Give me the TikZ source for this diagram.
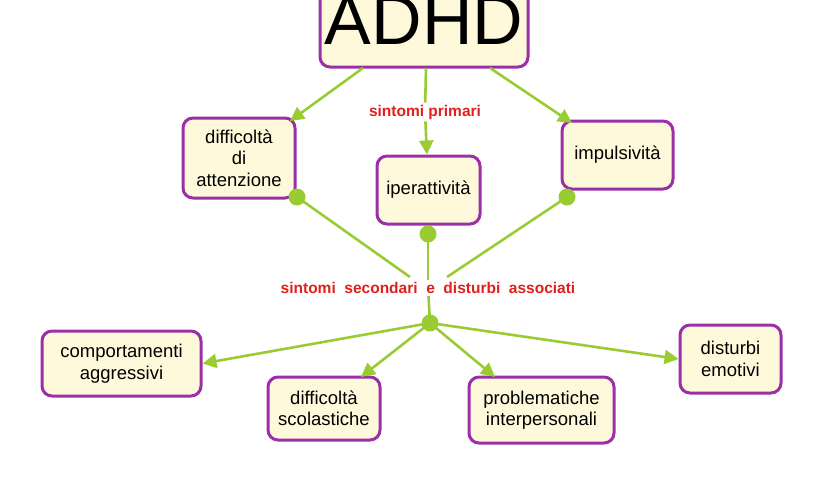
\documentclass[tikz,border=0pt]{standalone}
\usepackage{fontspec}
\setmainfont{Liberation Sans}
\usetikzlibrary{arrows.meta}
\definecolor{cream}{HTML}{FFF9DC}
\definecolor{purp}{HTML}{9A2FA8}
\definecolor{lgreen}{HTML}{99CC33}
\definecolor{lred}{HTML}{E0201C}
\begin{document}
\begin{tikzpicture}[x=1pt,y=-1pt,
 box/.style={draw=purp,line width=3pt,fill=cream,rounded corners=10pt,align=center,font=\fontsize{18.5}{21.5}\selectfont,inner sep=2pt},
 lab/.style={text=lred,font=\bfseries\fontsize{15.5}{17}\selectfont,fill=white,inner sep=2pt},
 con/.style={draw=lgreen,line width=2.6pt},
 arr/.style={con,-{Triangle[length=14pt,width=14pt]}},
 dot/.style={circle,fill=lgreen,minimum size=17pt,inner sep=0pt}]
\useasboundingbox (0,0) rectangle (840,480);
\node[box,minimum width=208pt,minimum height=94pt,inner sep=0pt,font=\fontsize{70}{70}\selectfont] (adhd) at (424,20) {ADHD};
\node[box,minimum width=112pt,minimum height=80pt] (att) at (239,158) {difficoltà\\di\\attenzione};
\node[box,minimum width=103pt,minimum height=68pt] (iper) at (428.5,190) {iperattività};
\node[box,minimum width=111pt,minimum height=68pt] (imp) at (617.5,155) {impulsività};
\node[box,minimum width=159pt,minimum height=65pt] (comp) at (121.5,363.5) {comportamenti\\aggressivi};
\node[box,minimum width=112pt,minimum height=63pt] (scol) at (324,408.5) {difficoltà\\scolastiche};
\node[box,minimum width=145pt,minimum height=66pt] (prob) at (541.5,410) {problematiche\\interpersonali};
\node[box,minimum width=101pt,minimum height=68pt] (emo) at (730.5,359) {disturbi\\emotivi};
\coordinate (a1) at (363,68); \coordinate (a2) at (426,68); \coordinate (a3) at (490,68);
\draw[arr] (a1) -- (290,121);
\draw[arr] (a3) -- (572,123);
\node[lab] (sp) at (425,112) {sintomi\ primari};
\draw[con] (a2) -- (sp);
\draw[arr] (sp) -- (iper);
\node[dot] (d1) at (297,197) {};
\node[dot] (d2) at (428,234) {};
\node[dot] (d3) at (567,197) {};
\node[lab] (ss) at (428,288) {sintomi\ \ secondari\ \ e\ \ disturbi\ \ associati};
\coordinate (s1) at (410,277); \coordinate (s3) at (447,277);
\draw[con] (s1) -- (d1.center);
\draw[con] (ss) -- (d2.center);
\draw[con] (s3) -- (d3.center);
\node[dot] (hub) at (430,323) {};
\draw[con] (ss) -- (hub.center);
\draw[arr] (hub.center) -- (comp.east);
\draw[arr] (hub.center) -- (361,377);
\draw[arr] (hub.center) -- (495,377);
\draw[arr] (hub.center) -- (emo.west);
\end{tikzpicture}
\end{document}
